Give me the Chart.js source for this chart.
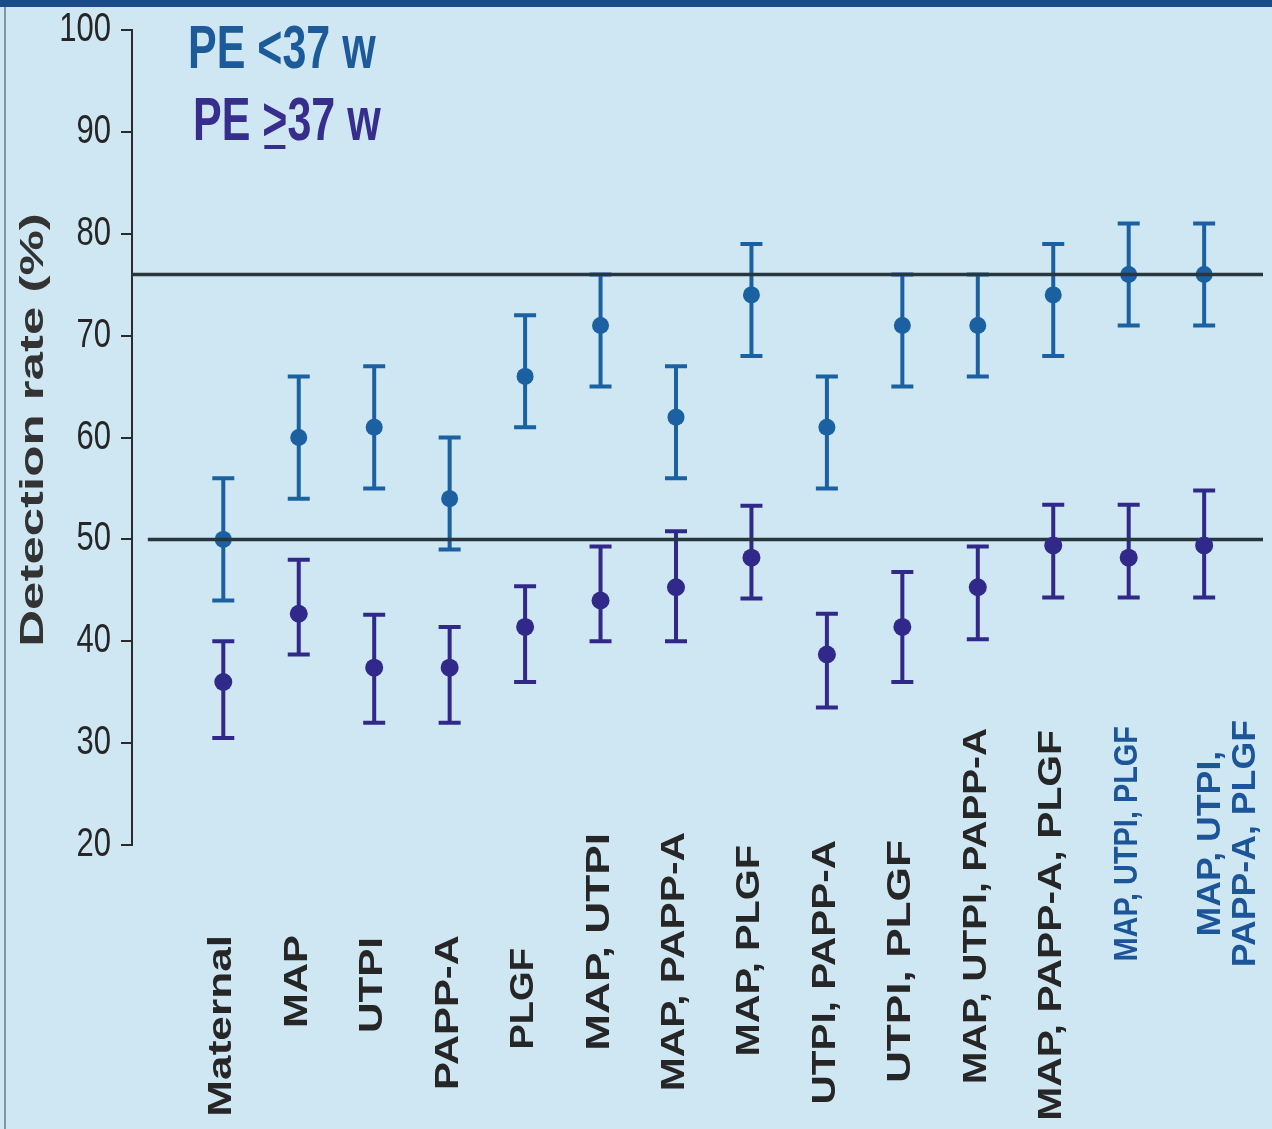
<!DOCTYPE html>
<html>
<head>
<meta charset="utf-8">
<script src="https://cdn.jsdelivr.net/npm/chart.js@4.4.1/dist/chart.umd.min.js"></script>
<style>
  html, body { margin: 0; padding: 0; background: #cee7f3; }
  #wrap { width: 1272px; height: 1129px; position: relative; }
</style>
</head>
<body>
<div id="wrap"><canvas id="detectionChart"></canvas></div>
<script>
// Detection rate by screening combination (PE <37 w vs PE >=37 w)

const categories = [
  'Maternal', 'MAP', 'UTPI', 'PAPP-A', 'PLGF',
  'MAP, UTPI', 'MAP, PAPP-A', 'MAP, PLGF', 'UTPI, PAPP-A', 'UTPI, PLGF',
  'MAP, UTPI, PAPP-A', 'MAP, PAPP-A, PLGF', 'MAP, UTPI, PLGF',
  ['MAP, UTPI,', 'PAPP-A, PLGF']
];

// PE <37 w
const pretermRate = [50, 60, 61, 54, 66, 71, 62, 74, 61, 71, 71, 74, 76, 76];
const pretermLow  = [44, 54, 55, 49, 61, 65, 56, 68, 55, 65, 66, 68, 71, 71];
const pretermHigh = [56, 66, 67, 60, 72, 76, 67, 79, 66, 76, 76, 79, 81, 81];

// PE >=37 w
const termRate = [36, 42.7, 37.4, 37.4, 41.4, 44, 45.3, 48.2, 38.7, 41.4, 45.3, 49.4, 48.2, 49.4];
const termLow  = [30.5, 38.7, 32, 32, 36, 40, 40, 44.2, 33.5, 36, 40.2, 44.3, 44.3, 44.3];
const termHigh = [40, 48, 42.6, 41.4, 45.4, 49.3, 50.8, 53.3, 42.7, 46.8, 49.3, 53.4, 53.4, 54.8];

// horizontal reference lines
const refLevels = [76, 50];

const yTicks = [20, 30, 40, 50, 60, 70, 80, 90, 100];

// --- layout / style ---
const X_MIN = -1.21;
const X_MAX = 13.78;
const FONT = "'Liberation Sans', Arial, sans-serif";
const BLUE = '#1b61a2';
const PURPLE = '#30298a';
const TEXT = '#262626';
const LABEL_BLUE = '#1c5698';

// top end of each rotated label and its stretch (the slide font is condensed)
const labelTop = [935, 935, 937, 935, 948, 833, 832, 845, 840, 840, 728, 730, 726, 720];
const labelStretch = [1.3, 1.23, 1.24, 1.23, 1.12, 1.3, 1.2, 1.17, 1.19, 1.3, 1.14, 1.2, 0.85, 1.05];
const labelColor = [TEXT, TEXT, TEXT, TEXT, TEXT, TEXT, TEXT, TEXT, TEXT, TEXT, TEXT, TEXT, LABEL_BLUE, LABEL_BLUE];

function points(values) {
  return values.map((v, i) => ({ x: i, y: v }));
}

// background of the slide
const slideBackground = {
  id: 'slideBackground',
  beforeDraw(chart) {
    const ctx = chart.ctx;
    ctx.save();
    ctx.fillStyle = '#cee7f3';
    ctx.fillRect(0, 0, chart.width, chart.height);
    ctx.fillStyle = '#1b4c88';
    ctx.fillRect(0, 0, chart.width, 7);
    ctx.fillStyle = '#7f98a4';
    ctx.fillRect(4, 7, 2, chart.height - 7);
    ctx.restore();
  }
};

// error bars (95% CI) for both series
const errorBars = {
  id: 'errorBars',
  beforeDatasetsDraw(chart) {
    const ctx = chart.ctx;
    const xs = chart.scales.x;
    const ys = chart.scales.y;
    const series = [
      { low: pretermLow, high: pretermHigh, color: BLUE },
      { low: termLow, high: termHigh, color: PURPLE }
    ];
    ctx.save();
    ctx.lineCap = 'butt';
    series.forEach(s => {
      ctx.strokeStyle = s.color;
      ctx.lineWidth = 4;
      s.low.forEach((lo, i) => {
        const px = xs.getPixelForValue(i);
        const yLo = ys.getPixelForValue(lo);
        const yHi = ys.getPixelForValue(s.high[i]);
        ctx.beginPath();
        ctx.moveTo(px, yLo);
        ctx.lineTo(px, yHi);
        ctx.moveTo(px - 11, yLo);
        ctx.lineTo(px + 11, yLo);
        ctx.moveTo(px - 11, yHi);
        ctx.lineTo(px + 11, yHi);
        ctx.stroke();
      });
    });
    ctx.restore();
  }
};

// all the slide text: axis title, tick labels, legend, rotated category labels
const slideText = {
  id: 'slideText',
  afterDraw(chart) {
    const ctx = chart.ctx;
    const xs = chart.scales.x;
    const ys = chart.scales.y;
    ctx.save();

    // y tick labels
    ctx.fillStyle = TEXT;
    ctx.font = '31px ' + FONT;
    ctx.textAlign = 'right';
    ctx.textBaseline = 'middle';
    yTicks.forEach(v => {
      ctx.save();
      ctx.translate(111, ys.getPixelForValue(v));
      ctx.scale(1, 1.3);
      ctx.fillText(String(v), 0, 0);
      ctx.restore();
    });

    // y axis title
    ctx.save();
    ctx.font = 'bold 34px ' + FONT;
    ctx.fillStyle = '#333333';
    ctx.textAlign = 'center';
    ctx.textBaseline = 'alphabetic';
    ctx.translate(43, 430);
    ctx.rotate(-Math.PI / 2);
    ctx.scale(1.5, 1);
    ctx.fillText('Detection rate (%)', 0, 0);
    ctx.restore();

    // legend
    ctx.font = 'bold 43px ' + FONT;
    ctx.textAlign = 'left';
    ctx.textBaseline = 'alphabetic';
    ctx.save();
    ctx.fillStyle = '#1d5a9a';
    ctx.translate(188, 68);
    ctx.scale(1, 1.42);
    ctx.fillText('PE <37 w', 0, 0);
    ctx.restore();
    ctx.save();
    ctx.fillStyle = '#372d8c';
    ctx.translate(193, 140);
    const pre = ctx.measureText('PE ').width;
    const gt = ctx.measureText('>').width;
    ctx.fillRect(pre + 2, 5, gt - 4, 4);
    ctx.scale(1, 1.42);
    ctx.fillText('PE >37 w', 0, 0);
    ctx.restore();

    // category labels, rotated; multi-line labels are centred on each other
    ctx.font = 'bold 34px ' + FONT;
    ctx.textAlign = 'right';
    ctx.textBaseline = 'alphabetic';
    categories.forEach((label, i) => {
      const lines = Array.isArray(label) ? label : [label];
      const multi = lines.length > 1;
      const base = xs.getPixelForValue(i) + (multi ? 16 : 8);
      const widths = lines.map(t => ctx.measureText(t).width * labelStretch[i]);
      const longest = Math.max(...widths);
      ctx.fillStyle = labelColor[i];
      lines.forEach((line, k) => {
        ctx.save();
        ctx.translate(base + k * 35, labelTop[i] + (longest - widths[k]) / 2);
        ctx.rotate(-Math.PI / 2);
        ctx.scale(labelStretch[i], 1);
        ctx.fillText(line, 0, 0);
        ctx.restore();
      });
    });

    ctx.restore();
  }
};

const ctx = document.getElementById('detectionChart');
new Chart(ctx, {
  type: 'scatter',
  data: {
    datasets: [
      {
        label: 'PE <37 w',
        data: points(pretermRate),
        backgroundColor: BLUE,
        borderWidth: 0,
        pointRadius: 8.5,
        order: 3
      },
      {
        type: 'line',
        label: 'ref 76',
        data: [{ x: X_MIN, y: refLevels[0] }, { x: X_MAX, y: refLevels[0] }],
        borderColor: '#27373b',
        borderWidth: 3.5,
        pointRadius: 0,
        order: 2
      },
      {
        type: 'line',
        label: 'ref 50',
        data: [{ x: -1, y: refLevels[1] }, { x: X_MAX, y: refLevels[1] }],
        borderColor: '#27373b',
        borderWidth: 3.5,
        pointRadius: 0,
        order: 2
      },
      {
        label: 'PE >=37 w',
        data: points(termRate),
        backgroundColor: PURPLE,
        borderWidth: 0,
        pointRadius: 9,
        order: 1
      }
    ]
  },
  options: {
    responsive: true,
    maintainAspectRatio: false,
    animation: false,
    layout: {
      padding: { top: 30, bottom: 284, left: 0, right: 0 }
    },
    plugins: {
      legend: { display: false },
      tooltip: { enabled: false }
    },
    scales: {
      x: {
        type: 'linear',
        display: false,
        min: X_MIN,
        max: X_MAX
      },
      y: {
        min: 20,
        max: 100,
        ticks: { display: false, stepSize: 10 },
        grid: {
          drawOnChartArea: false,
          drawTicks: true,
          tickLength: 11,
          color: '#2b2b2b',
          lineWidth: 2
        },
        border: { display: true, color: '#2b2b2b', width: 2 },
        afterFit(scale) {
          scale.width = 132;
        }
      }
    }
  },
  plugins: [slideBackground, errorBars, slideText]
});
</script>
</body>
</html>
